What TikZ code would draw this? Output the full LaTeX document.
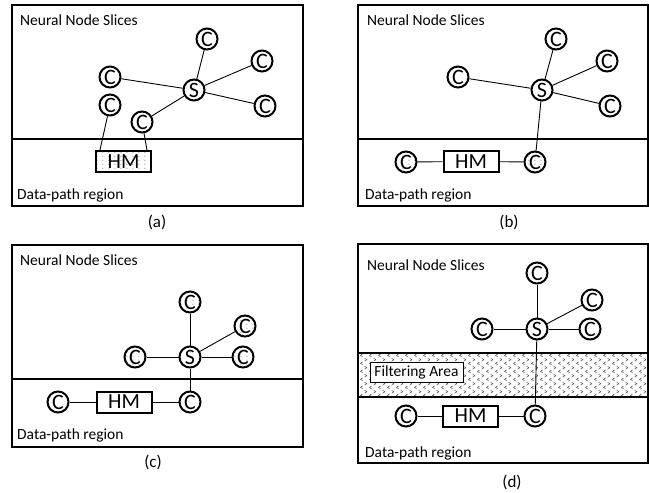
\documentclass[tikz,border=0pt]{standalone}
\usepackage{fontspec}
\setmainfont{Carlito}
\usetikzlibrary{patterns.meta}

\tikzdeclarepattern{
	name=fewdots,
	type=uncolored,
	bounding box={(0pt,0pt) and (6pt,4pt)},
	tile size={(6pt,4pt)},
	code={\fill (1pt,1pt) circle (0.55pt);}
}
\tikzdeclarepattern{
	name=chevrons,
	type=uncolored,
	bounding box={(0pt,0pt) and (9pt,8pt)},
	tile size={(9pt,8pt)},
	code={
		\draw[line width=0.5pt] (2.8pt,0.3pt) -- (0.6pt,1.8pt) -- (2.8pt,3.3pt);
		\draw[line width=0.5pt] (5.3pt,4.3pt) -- (7.5pt,5.8pt) -- (5.3pt,7.3pt);
	}
}

\begin{document}
\begin{tikzpicture}[x=1pt,y=-1pt,
	frame/.style={line width=2pt},
	link/.style={line width=0.9pt},
	cnode/.style={circle,draw,fill=white,line width=2pt,minimum size=21pt,inner sep=0pt,font=\fontsize{22}{22}\selectfont},
	cdots/.style={cnode,pattern=fewdots,pattern color=black!70},
	hmbox/.style={draw,fill=white,line width=2pt,minimum width=55pt,minimum height=21pt,inner sep=0pt,font=\fontsize{21.5}{22}\selectfont},
	lbl/.style={anchor=base west,inner sep=0pt,font=\fontsize{15.5}{16}\selectfont},
	captext/.style={anchor=base,inner sep=0pt,font=\fontsize{17}{17}\selectfont}]
	\useasboundingbox (0,0) rectangle (649,493);

	% (a)
	\draw[frame] (12,5) rectangle (303,206);
	\draw[frame] (12,139) -- (303,139);
	\node[lbl] (nsa) at (20,25) {Neural Node Slices};
	\node[lbl] (dpa) at (17,199) {Data-path region};
	\node[captext] (capa) at (157,227) {(a)};
	\node[cnode] (sa) at (194,90) {S};
	\node[cnode] (ca1) at (207,39) {C};
	\node[cnode] (ca2) at (262,61) {C};
	\node[cnode] (ca3) at (110,77) {C};
	\node[cnode] (ca4) at (265,106) {C};
	\node[cnode] (ca5) at (110,105) {C};
	\node[cnode] (ca6) at (142,122) {C};
	\node[hmbox,pattern=fewdots,pattern color=black!70] (hma) at (123.5,161.5) {HM};
	\foreach \c in {ca1,ca2,ca3,ca4,ca6}
		\draw[link] (sa) -- (\c);
	\draw[link] (ca5) -- ([xshift=5pt]hma.north west);
	\draw[link] (ca6) -- ([xshift=-5pt]hma.north east);

	% (b)
	\draw[frame] (358,5) rectangle (648,206);
	\draw[frame] (358,139) -- (648,139);
	\node[lbl] (nsb) at (367,25) {Neural Node Slices};
	\node[lbl] (dpb) at (365,199) {Data-path region};
	\node[captext] (capb) at (509,227) {(b)};
	\node[cnode] (sb) at (542,90) {S};
	\node[cnode] (cb1) at (556,39) {C};
	\node[cnode] (cb2) at (607,61) {C};
	\node[cnode] (cb3) at (458,77) {C};
	\node[cnode] (cb4) at (610,106) {C};
	\node[cdots] (cb5) at (406,162) {C};
	\node[hmbox] (hmb) at (471,161.5) {HM};
	\node[cdots] (cb6) at (535,162) {C};
	\foreach \c in {cb1,cb2,cb3,cb4,cb6}
		\draw[link] (sb) -- (\c);
	\draw[link] (cb5) -- (hmb) -- (cb6);

	% (c)
	\draw[frame] (12,245) rectangle (303,447);
	\draw[frame] (12,379) -- (303,379);
	\node[lbl] (nsc) at (20,265) {Neural Node Slices};
	\node[lbl] (dpc) at (17,439) {Data-path region};
	\node[captext] (capc) at (153,467) {(c)};
	\node[cnode] (sc) at (190,357) {S};
	\node[cdots] (cc1) at (190,302) {C};
	\node[cdots] (cc2) at (245,326) {C};
	\node[cdots] (cc3) at (135,357) {C};
	\node[cdots] (cc4) at (243,357) {C};
	\node[cnode] (cc5) at (58,402) {C};
	\node[hmbox] (hmc) at (124,402) {HM};
	\node[cnode] (cc6) at (190,402) {C};
	\foreach \c in {cc1,cc2,cc3,cc4,cc6}
		\draw[link] (sc) -- (\c);
	\draw[link] (cc5) -- (hmc) -- (cc6);

	% (d)
	\draw[frame] (358,244) rectangle (648,463);
	\fill[pattern=chevrons,pattern color=black!80] (358,353) rectangle (648,397);
	\draw[frame] (358,353) -- (648,353);
	\draw[frame] (358,397) -- (648,397);
	\node[draw,fill=white,line width=0.7pt,minimum width=93pt,minimum height=20pt,inner sep=0pt,font=\fontsize{15.5}{16}\selectfont] (fa) at (416.5,372) {Filtering Area};
	\node[lbl] (nsd) at (367,270) {Neural Node Slices};
	\node[lbl] (dpd) at (365,457) {Data-path region};
	\node[captext] (capd) at (512,487) {(d)};
	\node[cnode] (sd) at (537,329) {S};
	\node[cnode] (cd1) at (537,273) {C};
	\node[cnode] (cd2) at (592,300) {C};
	\node[cnode] (cd3) at (482,329) {C};
	\node[cnode] (cd4) at (590,329) {C};
	\node[cnode] (cd5) at (406,416) {C};
	\node[hmbox] (hmd) at (470.5,416) {HM};
	\node[cnode] (cd6) at (535,416) {C};
	\foreach \c in {cd1,cd2,cd3,cd4,cd6}
		\draw[link] (sd) -- (\c);
	\draw[link] (cd5) -- (hmd) -- (cd6);
\end{tikzpicture}
\end{document}
